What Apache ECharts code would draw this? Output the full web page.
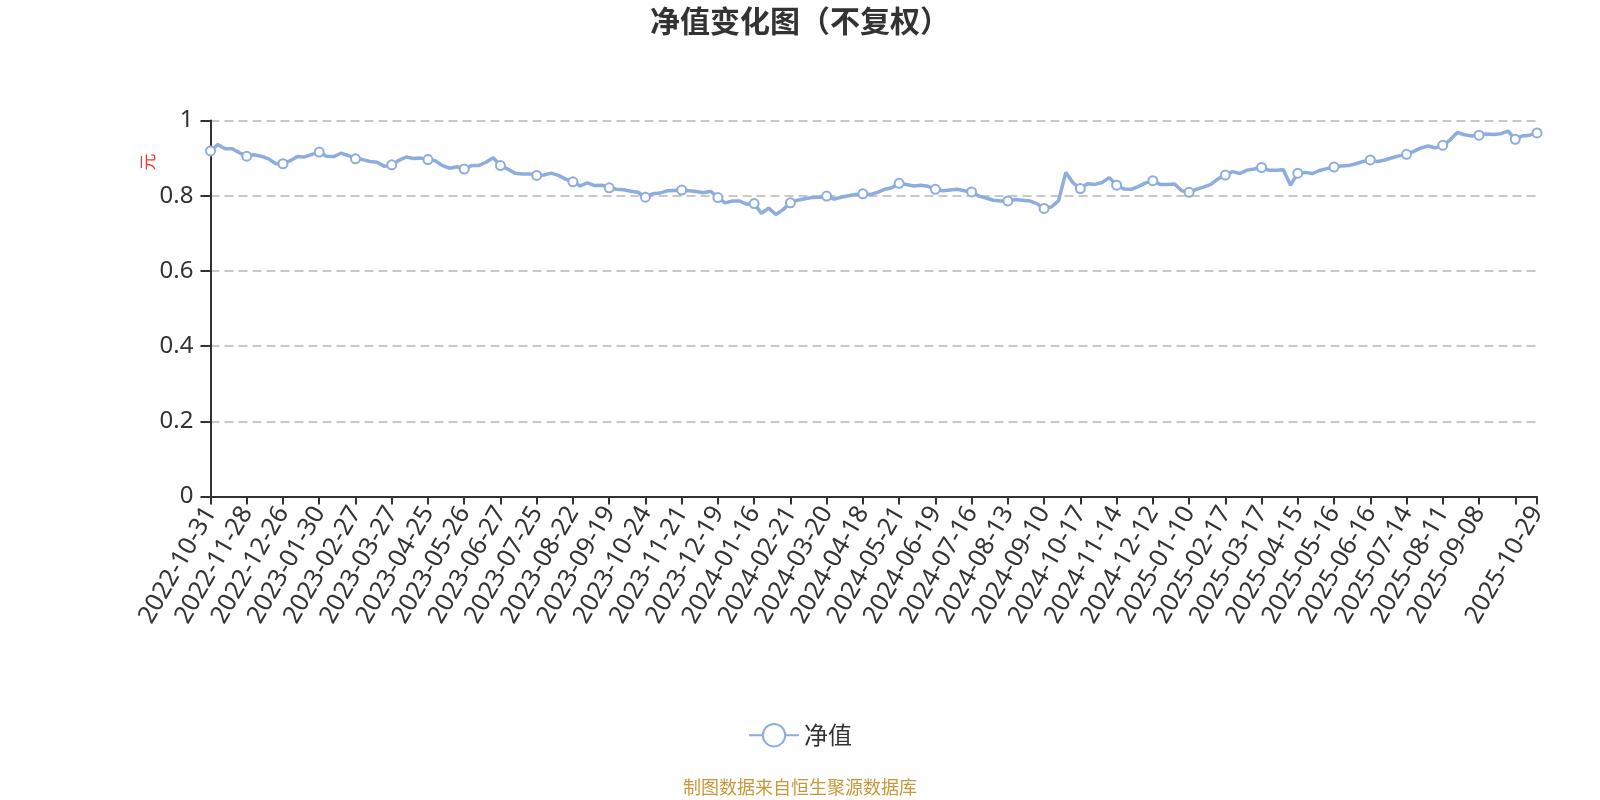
<!DOCTYPE html>
<html>
<head>
<meta charset="utf-8">
<title>净值变化图（不复权）</title>
<script src="https://cdn.jsdelivr.net/npm/echarts@6/dist/echarts.min.js"></script>
<style>
  html, body { margin: 0; padding: 0; background: #fff; }
  #main { width: 1600px; height: 800px; }
</style>
</head>
<body>
<div id="main"></div>
<script>
// sampled every 4 trading days; every 5th point is an axis label date
const dates2022 = [
  "2022-10-31", "2022-11-04", "2022-11-10", "2022-11-16", "2022-11-22",
  "2022-11-28", "2022-12-02", "2022-12-08", "2022-12-14", "2022-12-20",
  "2022-12-26", "2022-12-30"
];
const values2022 = [
  0.919, 0.936, 0.925, 0.925, 0.914,
  0.905, 0.909, 0.905, 0.898, 0.885,
  0.885, 0.893
];

const dates2023 = [
  "2023-01-06", "2023-01-12", "2023-01-18",
  "2023-01-30", "2023-02-03", "2023-02-09", "2023-02-15", "2023-02-21",
  "2023-02-27", "2023-03-03", "2023-03-09", "2023-03-15", "2023-03-21",
  "2023-03-27", "2023-03-31", "2023-04-07", "2023-04-13", "2023-04-19",
  "2023-04-25", "2023-05-04", "2023-05-10", "2023-05-16", "2023-05-22",
  "2023-05-26", "2023-06-01", "2023-06-07", "2023-06-13", "2023-06-19",
  "2023-06-27", "2023-07-03", "2023-07-07", "2023-07-13", "2023-07-19",
  "2023-07-25", "2023-07-31", "2023-08-04", "2023-08-10", "2023-08-16",
  "2023-08-22", "2023-08-28", "2023-09-01", "2023-09-07", "2023-09-13",
  "2023-09-19", "2023-09-25", "2023-10-09", "2023-10-13", "2023-10-19",
  "2023-10-24", "2023-10-30", "2023-11-03", "2023-11-09", "2023-11-15",
  "2023-11-21", "2023-11-27", "2023-12-01", "2023-12-07", "2023-12-13",
  "2023-12-19", "2023-12-25", "2023-12-29"
];
const values2023 = [
  0.904, 0.903, 0.910,
  0.916, 0.905, 0.904, 0.913, 0.907,
  0.898, 0.896, 0.891, 0.889, 0.878,
  0.882, 0.894, 0.903, 0.899, 0.900,
  0.896, 0.893, 0.880, 0.873, 0.877,
  0.871, 0.880, 0.880, 0.889, 0.901,
  0.880, 0.871, 0.860, 0.858, 0.858,
  0.854, 0.855, 0.860, 0.854, 0.844,
  0.837, 0.826, 0.834, 0.827, 0.828,
  0.821, 0.817, 0.816, 0.812, 0.809,
  0.796, 0.805, 0.807, 0.813, 0.814,
  0.815, 0.813, 0.811, 0.808, 0.812,
  0.795, 0.781, 0.786
];

const dates2024 = [
  "2024-01-05", "2024-01-11",
  "2024-01-16", "2024-01-22", "2024-01-26", "2024-02-01", "2024-02-07",
  "2024-02-21", "2024-02-27", "2024-03-04", "2024-03-08", "2024-03-14",
  "2024-03-20", "2024-03-26", "2024-04-01", "2024-04-09", "2024-04-15",
  "2024-04-18", "2024-04-24", "2024-04-30", "2024-05-09", "2024-05-15",
  "2024-05-21", "2024-05-27", "2024-05-31", "2024-06-06", "2024-06-13",
  "2024-06-19", "2024-06-25", "2024-07-01", "2024-07-05", "2024-07-11",
  "2024-07-16", "2024-07-22", "2024-07-26", "2024-08-01", "2024-08-07",
  "2024-08-13", "2024-08-19", "2024-08-23", "2024-08-29", "2024-09-04",
  "2024-09-10", "2024-09-18", "2024-09-24", "2024-09-30", "2024-10-11",
  "2024-10-17", "2024-10-23", "2024-10-29", "2024-11-04", "2024-11-08",
  "2024-11-14", "2024-11-20", "2024-11-26", "2024-12-02", "2024-12-06",
  "2024-12-12", "2024-12-18", "2024-12-24", "2024-12-30"
];
const values2024 = [
  0.786, 0.777,
  0.779, 0.753, 0.767, 0.750, 0.763,
  0.781, 0.788, 0.792, 0.795, 0.796,
  0.799, 0.791, 0.796, 0.800, 0.803,
  0.805, 0.803, 0.809, 0.817, 0.821,
  0.833, 0.830, 0.826, 0.828, 0.825,
  0.817, 0.813, 0.815, 0.817, 0.813,
  0.810, 0.799, 0.794, 0.788, 0.786,
  0.786, 0.790, 0.788, 0.786, 0.779,
  0.766, 0.770, 0.787, 0.862, 0.834,
  0.819, 0.832, 0.830, 0.835, 0.848,
  0.828, 0.818, 0.817, 0.824, 0.834,
  0.840, 0.830, 0.830, 0.831
];

const dates2025 = [
  "2025-01-06",
  "2025-01-10", "2025-01-16", "2025-01-22", "2025-02-05", "2025-02-11",
  "2025-02-17", "2025-02-21", "2025-02-27", "2025-03-05", "2025-03-11",
  "2025-03-17", "2025-03-21", "2025-03-27", "2025-04-02", "2025-04-09",
  "2025-04-15", "2025-04-21", "2025-04-25", "2025-05-06", "2025-05-12",
  "2025-05-16", "2025-05-22", "2025-05-28", "2025-06-04", "2025-06-10",
  "2025-06-16", "2025-06-20", "2025-06-26", "2025-07-02", "2025-07-08",
  "2025-07-14", "2025-07-18", "2025-07-24", "2025-07-30", "2025-08-05",
  "2025-08-11", "2025-08-15", "2025-08-21", "2025-08-27", "2025-09-02",
  "2025-09-08", "2025-09-12", "2025-09-18", "2025-09-24", "2025-09-30",
  "2025-10-14", "2025-10-20", "2025-10-24", "2025-10-29"
];
const values2025 = [
  0.813,
  0.809, 0.817, 0.823, 0.830, 0.845,
  0.855, 0.864, 0.859, 0.868, 0.871,
  0.875, 0.868, 0.868, 0.869, 0.828,
  0.860, 0.862, 0.859, 0.867, 0.872,
  0.876, 0.879, 0.880, 0.885, 0.891,
  0.895, 0.891, 0.895, 0.901, 0.906,
  0.910, 0.918, 0.927, 0.932, 0.927,
  0.934, 0.948, 0.968, 0.962, 0.959,
  0.961, 0.964, 0.963, 0.965, 0.972,
  0.950, 0.959, 0.961, 0.967
];

const dates = [].concat(dates2022, dates2023, dates2024, dates2025);
const netValues = [].concat(values2022, values2023, values2024, values2025);
const labelStep = 5;
const lastIndex = dates.length - 1;

const chart = echarts.init(document.getElementById("main"));

const option = {
  animation: false,
  backgroundColor: "#fff",
  textStyle: {
    fontFamily: "'Noto Sans', 'Noto Sans CJK SC', sans-serif"
  },
  title: {
    text: "净值变化图（不复权）",
    left: "center",
    top: 1,
    textStyle: {
      fontSize: 30,
      fontWeight: "bold",
      color: "#333",
      fontFamily: "'Noto Sans CJK SC', sans-serif"
    }
  },
  legend: {
    data: ["净值"],
    left: "center",
    top: 718,
    itemWidth: 50,
    itemHeight: 28,
    textStyle: {
      fontSize: 24,
      color: "#333",
      fontFamily: "'Noto Sans CJK SC', sans-serif"
    }
  },
  grid: {
    left: 210.5,
    right: 63,
    top: 120.5,
    bottom: 303.5,
    containLabel: false,
    outerBoundsMode: "none"
  },
  xAxis: {
    type: "category",
    boundaryGap: false,
    data: dates,
    axisLine: {
      lineStyle: { color: "#333", width: 2 }
    },
    axisTick: {
      length: 8,
      lineStyle: { color: "#333", width: 2 }
    },
    axisLabel: {
      rotate: 60,
      margin: 12,
      fontSize: 25,
      color: "#333",
      interval: function (index) {
        return index % labelStep === 0 || index === lastIndex;
      },
      formatter: function (value, index) {
        // the label just before the final date is crowded out
        if (index !== lastIndex && lastIndex - index < labelStep) return "";
        return value;
      }
    },
    splitLine: { show: false }
  },
  yAxis: {
    type: "value",
    min: 0,
    max: 1,
    interval: 0.2,
    axisLine: {
      show: true,
      lineStyle: { color: "#333", width: 2 }
    },
    axisTick: {
      show: true,
      length: 10,
      lineStyle: { color: "#333", width: 2 }
    },
    axisLabel: {
      fontSize: 24,
      color: "#333",
      margin: 17
    },
    splitLine: {
      lineStyle: { color: "#c8c8c8", type: [9, 5], width: 2 }
    }
  },
  graphic: [
    {
      type: "text",
      x: 148,
      y: 162,
      rotation: Math.PI / 2,
      style: {
        text: "元",
        fontSize: 17,
        fill: "#f33",
        align: "center",
        verticalAlign: "middle",
        fontFamily: "'Noto Sans CJK SC', sans-serif"
      }
    },
    {
      type: "text",
      left: "center",
      top: 778,
      style: {
        text: "制图数据来自恒生聚源数据库",
        fontSize: 18,
        fill: "#c9973a",
        fontFamily: "'Noto Sans CJK SC', sans-serif"
      }
    }
  ],
  series: [
    {
      name: "净值",
      type: "line",
      data: netValues,
      symbol: "emptyCircle",
      symbolSize: 9,
      showSymbol: true,
      lineStyle: { color: "#8cadde", width: 3.5 },
      itemStyle: { color: "#8cadde", borderWidth: 2 }
    }
  ]
};

chart.setOption(option);
</script>
</body>
</html>
